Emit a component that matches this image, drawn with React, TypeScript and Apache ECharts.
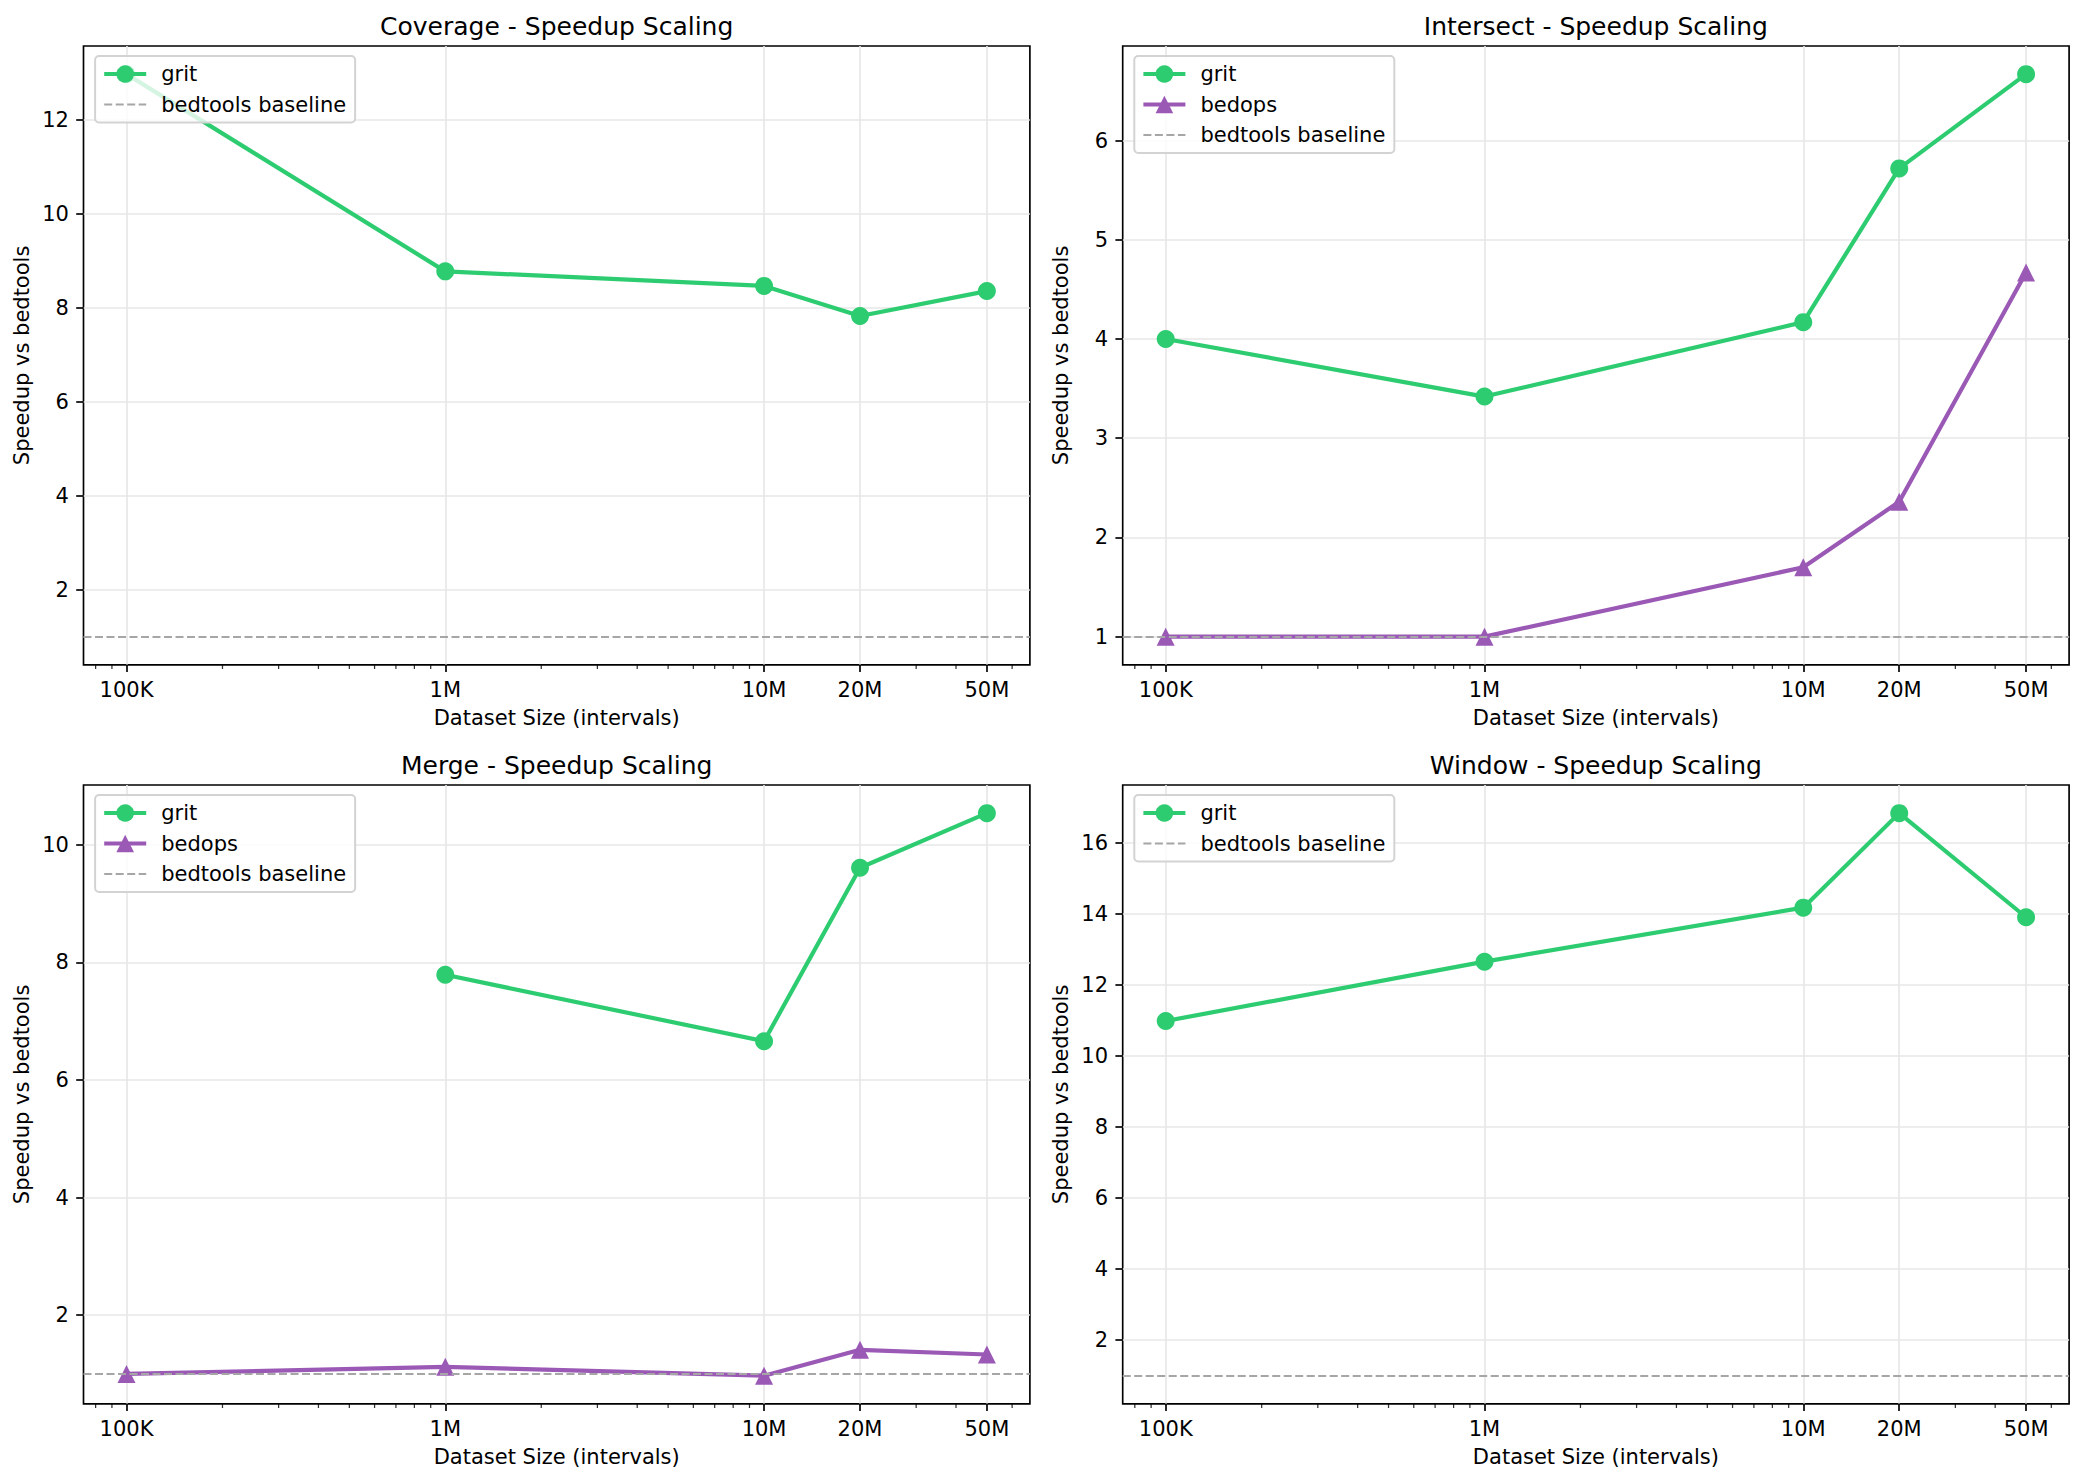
import React, { useEffect, useRef } from 'react';
import * as echarts from 'echarts';

// ---------- data ----------
const sizes = [1e5, 1e6, 1e7, 2e7, 5e7];
const sizeLabels = ['100K', '1M', '10M', '20M', '50M'];
const minorTickValues = [
  8e4, 9e4,
  2e5, 3e5, 4e5, 5e5, 6e5, 7e5, 8e5, 9e5,
  2e6, 3e6, 4e6, 5e6, 6e6, 7e6, 8e6, 9e6,
  3e7, 4e7, 6e7,
];

const panelTitles = [
  'Coverage - Speedup Scaling',
  'Intersect - Speedup Scaling',
  'Merge - Speedup Scaling',
  'Window - Speedup Scaling',
];

const coverageGrit = [12.98, 8.78, 8.47, 7.83, 8.36];
const intersectGrit = [4.0, 3.42, 4.17, 5.72, 6.67];
const intersectBedops = [1.0, 1.0, 1.7, 2.36, 4.67];
const mergeGrit: (number | null)[] = [null, 7.79, 6.66, 9.61, 10.54];
const mergeBedops = [1.0, 1.12, 0.97, 1.41, 1.33];
const windowGrit = [10.98, 12.65, 14.17, 16.83, 13.9];
const baselineValue = 1;

const coverageYTicks = [2, 4, 6, 8, 10, 12];
const intersectYTicks = [1, 2, 3, 4, 5, 6];
const mergeYTicks = [2, 4, 6, 8, 10];
const windowYTicks = [2, 4, 6, 8, 10, 12, 14, 16];

const xLabel = 'Dataset Size (intervals)';
const yLabel = 'Speedup vs bedtools';

// ---------- styling / layout ----------
const FONT = 'DejaVu Sans';
const GREEN = '#2ecc71';
const PURPLE = '#9b59b6';
const BASE_GRAY = '#a6a6a6';
const GRID_GRAY = '#e7e7e7';

const GRID_LEFTS = [83.5, 1122.7];
const GRID_TOPS = [46, 785];
const GRID_W = 946.4;
const GRID_H = 618.8;

type Panel = {
  title: string;
  grit: (number | null)[];
  bedops?: (number | null)[];
  yTicks: number[];
};

const panels: Panel[] = [
  { title: panelTitles[0], grit: coverageGrit, yTicks: coverageYTicks },
  { title: panelTitles[1], grit: intersectGrit, bedops: intersectBedops, yTicks: intersectYTicks },
  { title: panelTitles[2], grit: mergeGrit, bedops: mergeBedops, yTicks: mergeYTicks },
  { title: panelTitles[3], grit: windowGrit, yTicks: windowYTicks },
];

// matplotlib-style 5% margins
const logMin = Math.log10(sizes[0]);
const logMax = Math.log10(sizes[sizes.length - 1]);
const logSpan = logMax - logMin;
const X_MIN = Math.pow(10, logMin - 0.05 * logSpan);
const X_MAX = Math.pow(10, logMax + 0.05 * logSpan);

function yLimits(p: Panel) {
  const vals: number[] = [baselineValue];
  p.grit.forEach((v) => v != null && vals.push(v));
  (p.bedops || []).forEach((v) => v != null && vals.push(v));
  const lo = Math.min(...vals);
  const hi = Math.max(...vals);
  const span = hi - lo;
  return [lo - 0.05 * span, hi + 0.05 * span];
}

function toPoints(vals: (number | null)[]) {
  return sizes.map((s, i) => [s, vals[i] == null ? '-' : vals[i]]);
}

function sizeLabel(v: number) {
  for (let i = 0; i < sizes.length; i++) {
    if (Math.abs(v - sizes[i]) / sizes[i] < 1e-6) return sizeLabels[i];
  }
  return '';
}

function buildOption() {
  const grid: any[] = [];
  const xAxis: any[] = [];
  const yAxis: any[] = [];
  const series: any[] = [];
  const legend: any[] = [];
  const graphic: any[] = [];

  const textBase = { fontFamily: FONT, fontSize: 21, color: '#000' };

  panels.forEach((p, idx) => {
    const col = idx % 2;
    const row = Math.floor(idx / 2);
    const left = GRID_LEFTS[col];
    const top = GRID_TOPS[row];
    const [yMin, yMax] = yLimits(p);

    grid.push({
      left,
      top,
      width: GRID_W,
      height: GRID_H,
      show: true,
      borderColor: '#000',
      borderWidth: 1.67,
      backgroundColor: 'transparent',
      containLabel: false,
      outerBoundsMode: 'none',
    });

    xAxis.push({
      type: 'log',
      logBase: 10,
      gridIndex: idx,
      position: 'bottom',
      min: X_MIN,
      max: X_MAX,
      axisLine: { show: false, onZero: false },
      axisTick: {
        show: true,
        length: 7.3,
        lineStyle: { color: '#000', width: 1.67 },
        customValues: sizes,
      },
      minorTick: { show: false },
      minorSplitLine: { show: false },
      axisLabel: {
        show: true,
        customValues: sizes,
        margin: 15,
        formatter: (v: number) => sizeLabel(v),
        ...textBase,
      },
      splitLine: { show: true, lineStyle: { color: GRID_GRAY, width: 1.67 } },
      name: xLabel,
      nameLocation: 'middle',
      nameGap: 43,
      nameTextStyle: { ...textBase },
    });

    yAxis.push({
      type: 'value',
      gridIndex: idx,
      min: yMin,
      max: yMax,
      axisLine: { show: false, onZero: false },
      axisTick: {
        show: true,
        length: 7.3,
        lineStyle: { color: '#000', width: 1.67 },
        customValues: p.yTicks,
      },
      axisLabel: {
        show: true,
        customValues: p.yTicks,
        margin: 14.6,
        ...textBase,
      },
      splitLine: { show: true, lineStyle: { color: GRID_GRAY, width: 1.67 } },
      name: yLabel,
      nameLocation: 'middle',
      nameRotate: 90,
      nameGap: 51,
      nameTextStyle: { ...textBase },
    });

    // minor log ticks below the x axis, positioned by the x scale
    series.push({
      name: 'minor ticks',
      type: 'scatter',
      xAxisIndex: idx,
      yAxisIndex: idx,
      data: minorTickValues.map((v) => [v, yMin]),
      symbol: 'rect',
      symbolSize: [1.25, 4.2],
      symbolOffset: [0, '50%'],
      itemStyle: { color: '#000' },
      clip: false,
      silent: true,
      z: 5,
      emphasis: { disabled: true },
    });

    series.push({
      name: 'bedtools baseline',
      type: 'line',
      xAxisIndex: idx,
      yAxisIndex: idx,
      data: [],
      symbol: 'none',
      z: 1,
      lineStyle: { color: BASE_GRAY, width: 2.08, type: [8, 3.5] },
      itemStyle: { color: BASE_GRAY },
      markLine: {
        silent: true,
        symbol: ['none', 'none'],
        label: { show: false },
        lineStyle: { color: BASE_GRAY, width: 2.08, type: [8, 3.5] },
        emphasis: { disabled: true },
        data: [{ yAxis: baselineValue }],
      },
    });

    series.push({
      name: 'grit',
      type: 'line',
      xAxisIndex: idx,
      yAxisIndex: idx,
      data: toPoints(p.grit),
      connectNulls: false,
      symbol: 'circle',
      symbolSize: 18,
      showSymbol: true,
      z: 3,
      lineStyle: { color: GREEN, width: 4.2 },
      itemStyle: { color: GREEN },
      emphasis: { disabled: true },
    });

    if (p.bedops) {
      series.push({
        name: 'bedops',
        type: 'line',
        xAxisIndex: idx,
        yAxisIndex: idx,
        data: toPoints(p.bedops),
        symbol: 'triangle',
        symbolSize: 18,
        showSymbol: true,
        z: 2,
        lineStyle: { color: PURPLE, width: 4.2 },
        itemStyle: { color: PURPLE },
        emphasis: { disabled: true },
      });
    }

    const legendData: any[] = [{ name: 'grit', lineStyle: { width: 4.2 } }];
    if (p.bedops) legendData.push({ name: 'bedops', lineStyle: { width: 4.2 } });
    legendData.push({
      name: 'bedtools baseline',
      lineStyle: { width: 2.08 },
      itemStyle: { opacity: 0 },
    });

    legend.push({
      show: true,
      orient: 'vertical',
      left: left + 11.6,
      top: top + 10,
      data: legendData,
      selectedMode: false,
      itemWidth: 42,
      itemHeight: 22,
      itemGap: 8.5,
      padding: [7, 9, 7, 7],
      backgroundColor: 'rgba(255,255,255,0.8)',
      borderColor: '#d3d3d3',
      borderWidth: 2,
      borderRadius: 4,
      textStyle: { ...textBase, lineHeight: 22, padding: [0, 0, 0, 10] },
    });

    graphic.push({
      type: 'text',
      x: left + GRID_W / 2,
      y: top - 19.5,
      silent: true,
      style: {
        text: p.title,
        fontFamily: FONT,
        fontSize: 25,
        fill: '#000',
        textAlign: 'center',
        textVerticalAlign: 'middle',
      },
    });
  });

  return {
    animation: false,
    backgroundColor: '#fff',
    textStyle: { fontFamily: FONT },
    grid,
    xAxis,
    yAxis,
    series,
    legend,
    graphic,
  };
}

export default function App() {
  const ref = useRef<HTMLDivElement>(null);
  useEffect(() => {
    if (!ref.current) return;
    const chart = echarts.init(ref.current, null, { renderer: 'svg' });
    chart.setOption(buildOption() as any);
    return () => chart.dispose();
  }, []);
  return (
    <div
      ref={ref}
      style={{ position: 'absolute', left: 0, top: 0, width: 2083, height: 1482, background: '#fff' }}
    />
  );
}
